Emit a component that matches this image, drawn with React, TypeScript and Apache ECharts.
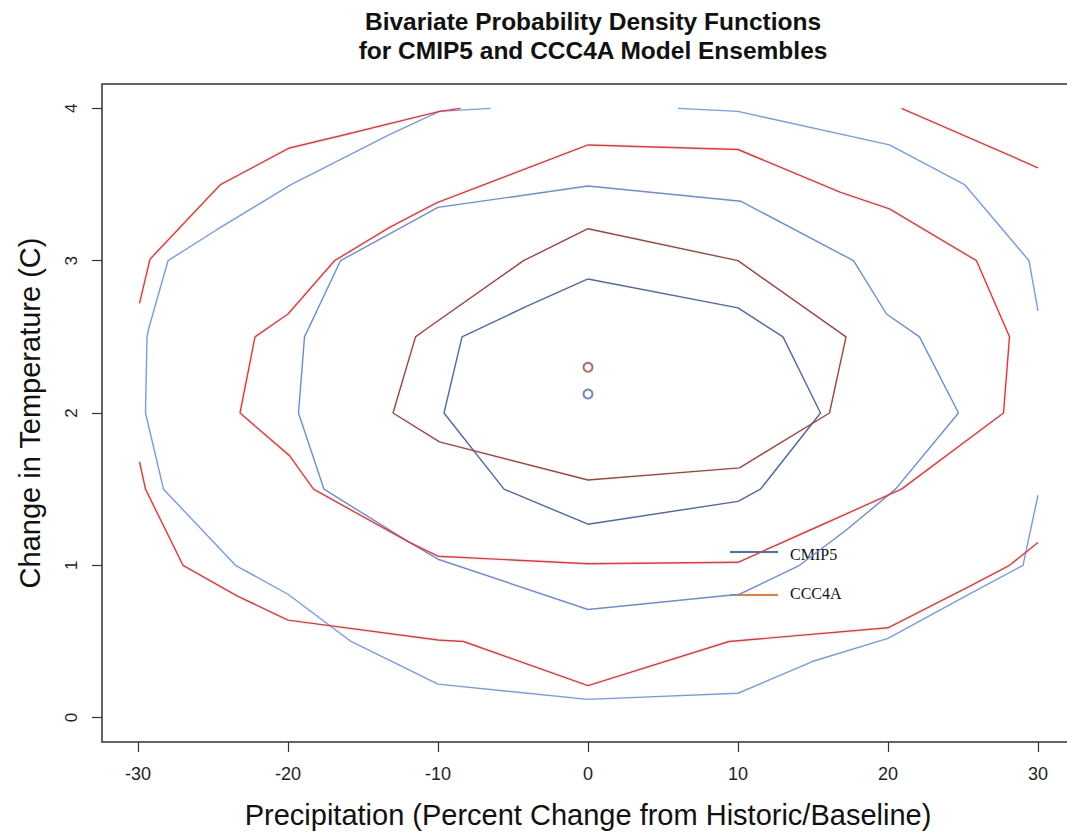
import React, { useEffect, useRef } from "react";
import * as echarts from "echarts";

type Pt = [number, number];

const xTicks = [-30, -20, -10, 0, 10, 20, 30];
const yTicks = [0, 1, 2, 3, 4];

const titleText = "Bivariate Probability Density Functions\nfor CMIP5 and CCC4A Model Ensembles";
const xTitle = "Precipitation (Percent Change from Historic/Baseline)";
const yTitle = "Change in Temperature (C)";

// CMIP5 contours
const cmip5Inner: Pt[] = [
  [0, 2.88], [-4.1, 2.7], [-8.4, 2.5], [-9.6, 2.0], [-5.6, 1.5], [0, 1.27],
  [10, 1.42], [11.5, 1.5], [15.5, 2.0], [13, 2.5], [10, 2.69], [0, 2.88],
];
const cmip5Mid: Pt[] = [
  [0, 3.49], [-10, 3.35], [-16.5, 3.0], [-18.9, 2.5], [-19.3, 2.0], [-17.6, 1.5],
  [-11.9, 1.15], [-10, 1.04], [0, 0.71], [10.1, 0.81], [14.1, 1.0], [17.2, 1.23],
  [20.5, 1.5], [24.7, 2.0], [22.1, 2.5], [19.9, 2.65], [17.7, 3.0], [10.2, 3.39], [0, 3.49],
];
const cmip5OuterA: Pt[] = [
  [-6.5, 4.0], [-9.9, 3.98], [-13.2, 3.83], [-19.8, 3.5], [-24.8, 3.2], [-28, 3.0],
  [-29.3, 2.55], [-29.4, 2.5], [-29.5, 2.0], [-28.3, 1.5], [-23.5, 1.0], [-20, 0.81],
  [-15.8, 0.5], [-10, 0.22], [0, 0.12], [10, 0.16], [15, 0.37], [20, 0.52],
  [25.2, 0.8], [29, 1.0], [30, 1.46],
];
const cmip5OuterB: Pt[] = [
  [6, 4.0], [10, 3.98], [20.1, 3.76], [25.1, 3.5], [29.4, 3.0], [30, 2.67],
];

// CCC4A contours
const ccc4aInner: Pt[] = [
  [0, 3.21], [-4.3, 3.0], [-10.8, 2.55], [-11.5, 2.5], [-13, 2.0], [-9.9, 1.81], [0, 1.56],
  [10.1, 1.64], [16.1, 2.0], [17.2, 2.5], [10, 3.0], [0, 3.21],
];
const ccc4aMid: Pt[] = [
  [0, 3.76], [-10.1, 3.38], [-13.2, 3.22], [-16.9, 3.0], [-20, 2.65], [-22.2, 2.5],
  [-23.2, 2.0], [-19.9, 1.72], [-18.3, 1.5], [-11.9, 1.15], [-10, 1.06], [0, 1.01],
  [10, 1.02], [15, 1.24], [20.9, 1.5], [27.7, 2.0], [28.1, 2.5], [25.9, 3.0],
  [20.1, 3.34], [16.8, 3.45], [10, 3.73], [0, 3.76],
];
const ccc4aOuterA: Pt[] = [
  [-8.5, 4.0], [-9.9, 3.98], [-16.5, 3.82], [-19.9, 3.74], [-24.5, 3.5], [-29.2, 3.01], [-29.9, 2.72],
];
const ccc4aOuterB: Pt[] = [
  [-29.9, 1.68], [-29.5, 1.5], [-27, 1.0], [-23.4, 0.8], [-20, 0.64], [-10, 0.51],
  [-8.3, 0.5], [0, 0.21], [9.4, 0.5], [20, 0.59], [25.4, 0.86], [28.1, 1.0], [30, 1.15],
];
const ccc4aOuterC: Pt[] = [[20.9, 4.0], [30, 3.61]];

const ccc4aMean: Pt[] = [[0, 2.3]];
const cmip5Mean: Pt[] = [[0, 2.125]];

const legendNames = ["CMIP5", "CCC4A"];

const C = {
  redBright: "#ff2b2b",
  redDark: "#a8403c",
  blueLight: "#7499f7",
  blueMid: "#6a8be6",
  blueDark: "#4f66b3",
};

function lineSeries(name: string, data: Pt[], color: string) {
  return {
    type: "line",
    name,
    data,
    symbol: "none",
    silent: true,
    lineStyle: { color, width: 1.4 },
    clip: true,
  };
}

function meanSeries(name: string, data: Pt[], color: string) {
  return {
    type: "scatter",
    name,
    data,
    symbol: "emptyCircle",
    symbolSize: 9,
    silent: true,
    z: 5,
    itemStyle: { color, borderColor: color, borderWidth: 1.5 },
  };
}

export default function App() {
  const ref = useRef<HTMLDivElement>(null);

  useEffect(() => {
    if (!ref.current) return;
    const chart = echarts.init(ref.current, undefined, { renderer: "svg" });
    const sans = "'Liberation Sans', Arial, Helvetica, sans-serif";
    chart.setOption({
      animation: false,
      backgroundColor: "#ffffff",
      title: {
        text: titleText,
        left: 588,
        top: 2,
        textAlign: "center",
        textStyle: {
          fontFamily: sans,
          fontWeight: "bold",
          fontSize: 24.5,
          lineHeight: 29,
          color: "#111",
        },
      },
      grid: {
        left: 102,
        right: 6,
        top: 84,
        bottom: 91,
        show: true,
        borderColor: "#333",
        borderWidth: 1.5,
        backgroundColor: "transparent",
      },
      xAxis: {
        type: "value",
        min: -32.4,
        max: 32.4,
        axisLine: { show: false, onZero: false },
        splitLine: { show: false },
        axisTick: { show: true, length: 10, customValues: xTicks, lineStyle: { color: "#333", width: 1.2 } },
        axisLabel: { customValues: xTicks, fontSize: 18, margin: 23, color: "#222", fontFamily: sans },
        name: xTitle,
        nameLocation: "middle",
        nameGap: 58,
        nameTextStyle: { fontSize: 29, color: "#111", fontFamily: sans },
      },
      yAxis: {
        type: "value",
        min: -0.16,
        max: 4.16,
        axisLine: { show: false, onZero: false },
        splitLine: { show: false },
        axisTick: { show: true, length: 10, customValues: yTicks, lineStyle: { color: "#333", width: 1.2 } },
        axisLabel: { customValues: yTicks, fontSize: 17, margin: 22, rotate: 90, color: "#222", fontFamily: sans },
        name: yTitle,
        nameLocation: "middle",
        nameGap: 58,
        nameRotate: 90,
        nameTextStyle: { fontSize: 29, color: "#111", fontFamily: sans },
      },
      series: [
        lineSeries("CMIP5 outer a", cmip5OuterA, C.blueLight),
        lineSeries("CMIP5 outer b", cmip5OuterB, C.blueLight),
        lineSeries("CCC4A outer a", ccc4aOuterA, C.redBright),
        lineSeries("CCC4A outer b", ccc4aOuterB, C.redBright),
        lineSeries("CCC4A outer c", ccc4aOuterC, C.redBright),
        lineSeries("CMIP5 mid", cmip5Mid, C.blueMid),
        lineSeries("CCC4A mid", ccc4aMid, C.redBright),
        lineSeries("CMIP5 inner", cmip5Inner, C.blueDark),
        lineSeries("CCC4A inner", ccc4aInner, C.redDark),
        meanSeries("CCC4A mean", ccc4aMean, C.redDark),
        meanSeries("CMIP5 mean", cmip5Mean, C.blueDark),
      ],
      graphic: [
        { type: "line", shape: { x1: 730, y1: 552, x2: 778, y2: 552 }, style: { stroke: "#4472c4", lineWidth: 2 } },
        {
          type: "text",
          x: 790,
          y: 554,
          style: { text: legendNames[0], fill: "#111", font: "16px 'Liberation Serif', 'Times New Roman', serif", verticalAlign: "middle" },
        },
        { type: "line", shape: { x1: 730, y1: 595, x2: 778, y2: 595 }, style: { stroke: "#ed7d31", lineWidth: 2 } },
        {
          type: "text",
          x: 790,
          y: 593,
          style: { text: legendNames[1], fill: "#111", font: "16px 'Liberation Serif', 'Times New Roman', serif", verticalAlign: "middle" },
        },
      ],
    });
    return () => chart.dispose();
  }, []);

  return (
    <div
      ref={ref}
      style={{ position: "fixed", left: 0, top: 0, width: 1080, height: 834, overflow: "hidden" }}
    />
  );
}
